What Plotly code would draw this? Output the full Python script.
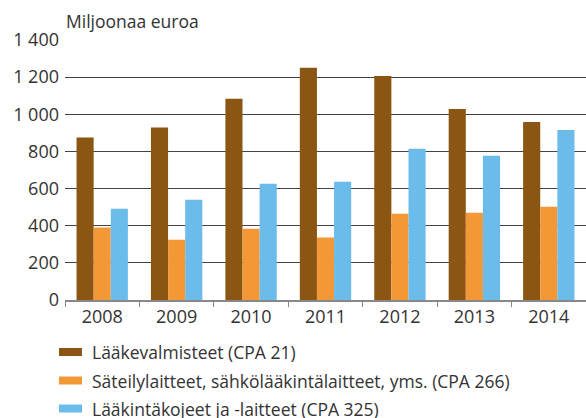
import plotly.graph_objects as go

years = ["2008", "2009", "2010", "2011", "2012", "2013", "2014"]
laakevalmisteet = [875, 929, 1083, 1250, 1206, 1029, 959]
sateilylaitteet = [391, 325, 384, 337, 465, 470, 502]
laakintakojeet = [491, 540, 626, 637, 814, 777, 916]

series_names = [
    "Lääkevalmisteet (CPA 21)",
    "Säteilylaitteet, sähkölääkintälaitteet, yms. (CPA 266)",
    "Lääkintäkojeet ja -laitteet (CPA 325)",
]
colors = ["#8B5514", "#F39837", "#6BBCEB"]
y_ticks = [0, 200, 400, 600, 800, 1000, 1200, 1400]

FONT = "Open Sans, Noto Sans, sans-serif"
W, H = 586, 418
TXT = "#333333"

fig = go.Figure()
for name, vals, c in zip(series_names, [laakevalmisteet, sateilylaitteet, laakintakojeet], colors):
    fig.add_trace(go.Bar(x=years, y=vals, name=name, marker_color=c,
                         marker_line_width=0, showlegend=False))

# custom legend (wide flat swatches like the reference)
shapes = []
annotations = []
legend_y = [352, 380.5, 408.5]
for name, c, py in zip(series_names, colors, legend_y):
    shapes.append(dict(type="rect", xref="paper", yref="paper",
                       x0=59 / W, x1=82 / W, y0=(H - py - 4) / H, y1=(H - py + 4) / H,
                       fillcolor=c, line_width=0))
    annotations.append(dict(text=name, xref="paper", yref="paper",
                            x=90 / W, y=(H - py) / H, xanchor="left", yanchor="middle",
                            showarrow=False, font=dict(size=17.5, color=TXT)))

annotations.append(dict(text="Miljoonaa euroa", xref="paper", yref="paper",
                        x=64 / W, y=(H - 21) / H, xanchor="left", yanchor="middle",
                        showarrow=False, font=dict(size=17.5, color=TXT)))

fig.update_layout(
    width=W, height=H,
    margin=dict(l=0, r=0, t=0, b=0),
    paper_bgcolor="white", plot_bgcolor="white",
    barmode="group", bargap=0.31, bargroupgap=0,
    separators=", ",
    font=dict(family=FONT, size=18, color=TXT),
    showlegend=False,
    xaxis=dict(
        domain=[65 / W, 1], automargin=False,
        showline=True, linecolor="#888888", linewidth=1.5,
        ticks="outside", tickson="boundaries", ticklen=5, tickcolor="#888888",
        tickfont=dict(size=18, color=TXT),
        showgrid=False,
    ),
    yaxis=dict(
        domain=[(H - 300) / H, (H - 40) / H], automargin=False,
        range=[0, 1400], tickvals=y_ticks, tickformat=",d",
        showgrid=True, gridcolor="#444444", gridwidth=1,
        zeroline=False, ticks="", ticklabelstandoff=5,
        tickfont=dict(size=18, color=TXT),
    ),
    shapes=shapes,
    annotations=annotations,
)

fig.write_html(
    "out.html",
    config={"displayModeBar": False},
    post_script="document.body.style.margin='0';document.body.style.overflow='hidden';",
)
